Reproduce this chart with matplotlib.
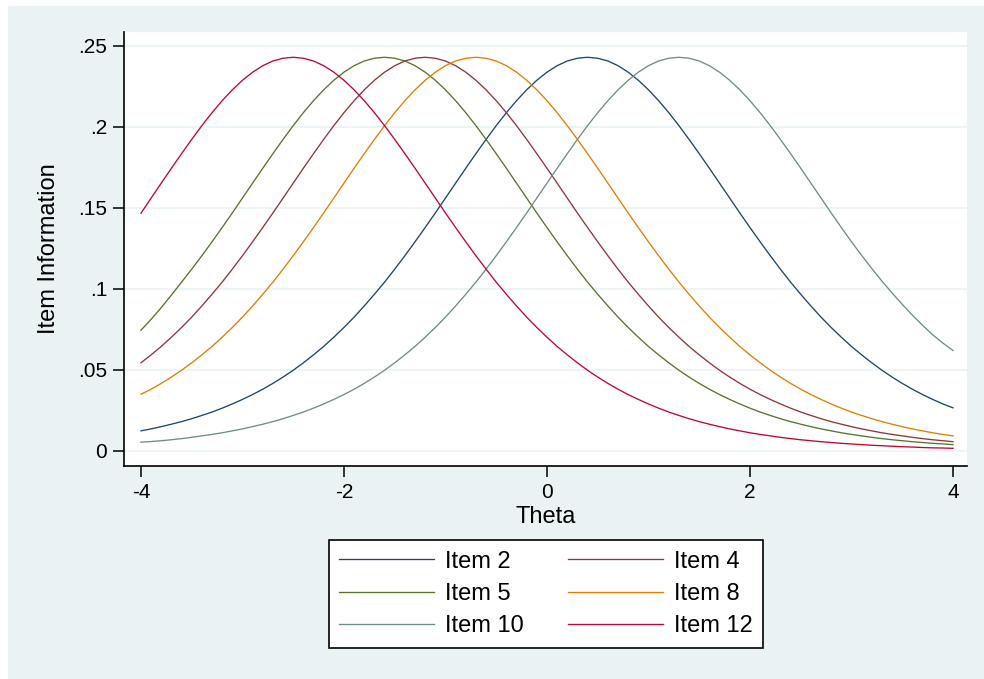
import matplotlib.pyplot as plt
from matplotlib.patches import Rectangle

plt.rcParams['font.family'] = ['Liberation Sans', 'DejaVu Sans']

# theta grid, step 0.1
theta = [-4.0, -3.9, -3.8, -3.7, -3.6, -3.5, -3.4, -3.3, -3.2, -3.1,
         -3.0, -2.9, -2.8, -2.7, -2.6, -2.5, -2.4, -2.3, -2.2, -2.1,
         -2.0, -1.9, -1.8, -1.7, -1.6, -1.5, -1.4, -1.3, -1.2, -1.1,
         -1.0, -0.9, -0.8, -0.7, -0.6, -0.5, -0.4, -0.3, -0.2, -0.1,
         0.0, 0.1, 0.2, 0.3, 0.4, 0.5, 0.6, 0.7, 0.8, 0.9,
         1.0, 1.1, 1.2, 1.3, 1.4, 1.5, 1.6, 1.7, 1.8, 1.9,
         2.0, 2.1, 2.2, 2.3, 2.4, 2.5, 2.6, 2.7, 2.8, 2.9,
         3.0, 3.1, 3.2, 3.3, 3.4, 3.5, 3.6, 3.7, 3.8, 3.9,
         4.0]

item2 = [.0124, .0136, .0150, .0165, .0181, .0199, .0219, .0240, .0264, .0290,
         .0318, .0348, .0381, .0417, .0456, .0498, .0544, .0593, .0645, .0702,
         .0762, .0826, .0895, .0967, .1042, .1122, .1205, .1291, .1379, .1469,
         .1561, .1653, .1745, .1835, .1923, .2008, .2088, .2162, .2229, .2288,
         .2338, .2378, .2407, .2424, .2430, .2424, .2407, .2378, .2338, .2288,
         .2229, .2162, .2088, .2008, .1923, .1835, .1745, .1653, .1561, .1469,
         .1379, .1291, .1205, .1122, .1042, .0967, .0895, .0826, .0762, .0702,
         .0645, .0593, .0544, .0498, .0456, .0417, .0381, .0348, .0318, .0290,
         .0266]
item4 = [.0544, .0593, .0645, .0702, .0762, .0826, .0895, .0967, .1042, .1122,
         .1205, .1291, .1379, .1469, .1561, .1653, .1745, .1835, .1923, .2008,
         .2088, .2162, .2229, .2288, .2338, .2378, .2407, .2424, .2430, .2424,
         .2407, .2378, .2338, .2288, .2229, .2162, .2088, .2008, .1923, .1835,
         .1745, .1653, .1561, .1469, .1379, .1291, .1205, .1122, .1042, .0967,
         .0895, .0826, .0762, .0702, .0645, .0593, .0544, .0498, .0456, .0417,
         .0381, .0348, .0318, .0290, .0264, .0240, .0219, .0199, .0181, .0165,
         .0150, .0136, .0124, .0112, .0102, .0093, .0084, .0076, .0069, .0063,
         .0057]
item5 = [.0745, .0812, .0885, .0962, .1042, .1122, .1205, .1291, .1379, .1469,
         .1561, .1653, .1745, .1835, .1923, .2008, .2088, .2162, .2229, .2288,
         .2338, .2378, .2407, .2424, .2430, .2424, .2407, .2378, .2338, .2288,
         .2229, .2162, .2088, .2008, .1923, .1835, .1745, .1653, .1561, .1469,
         .1379, .1291, .1205, .1122, .1042, .0967, .0895, .0826, .0762, .0702,
         .0645, .0593, .0544, .0498, .0456, .0417, .0381, .0348, .0318, .0290,
         .0264, .0240, .0219, .0199, .0181, .0165, .0150, .0136, .0124, .0112,
         .0102, .0093, .0084, .0076, .0069, .0063, .0057, .0052, .0047, .0043,
         .0039]
item8 = [.0350, .0381, .0417, .0456, .0498, .0544, .0593, .0645, .0702, .0762,
         .0826, .0895, .0967, .1042, .1122, .1205, .1291, .1379, .1469, .1561,
         .1653, .1745, .1835, .1923, .2008, .2088, .2162, .2229, .2288, .2338,
         .2378, .2407, .2424, .2430, .2424, .2407, .2378, .2338, .2288, .2229,
         .2162, .2088, .2008, .1923, .1835, .1745, .1653, .1561, .1469, .1379,
         .1291, .1205, .1122, .1042, .0967, .0895, .0826, .0762, .0702, .0645,
         .0593, .0544, .0498, .0456, .0417, .0381, .0348, .0318, .0290, .0264,
         .0240, .0219, .0199, .0181, .0165, .0150, .0136, .0124, .0112, .0102,
         .0093]
item10 = [.0054, .0058, .0063, .0069, .0076, .0084, .0093, .0102, .0112, .0124,
          .0136, .0150, .0165, .0181, .0199, .0219, .0240, .0264, .0290, .0318,
          .0348, .0381, .0417, .0456, .0498, .0544, .0593, .0645, .0702, .0762,
          .0826, .0895, .0967, .1042, .1122, .1205, .1291, .1379, .1469, .1561,
          .1653, .1745, .1835, .1923, .2008, .2088, .2162, .2229, .2288, .2338,
          .2378, .2407, .2424, .2430, .2424, .2407, .2378, .2338, .2288, .2229,
          .2162, .2088, .2008, .1923, .1835, .1745, .1653, .1561, .1469, .1379,
          .1291, .1207, .1126, .1048, .0975, .0905, .0838, .0776, .0717, .0666,
          .0620]
item12 = [.1467, .1561, .1653, .1745, .1835, .1923, .2008, .2088, .2162, .2229,
          .2288, .2338, .2378, .2407, .2424, .2430, .2424, .2407, .2378, .2338,
          .2288, .2229, .2162, .2088, .2008, .1923, .1835, .1745, .1653, .1561,
          .1469, .1379, .1291, .1205, .1122, .1042, .0967, .0895, .0826, .0762,
          .0702, .0645, .0593, .0544, .0498, .0456, .0417, .0381, .0348, .0318,
          .0290, .0264, .0240, .0219, .0199, .0181, .0165, .0150, .0136, .0124,
          .0112, .0102, .0093, .0084, .0076, .0069, .0063, .0057, .0052, .0047,
          .0043, .0039, .0035, .0032, .0029, .0026, .0024, .0021, .0019, .0018,
          .0016]

labels = ["Item 2", "Item 4", "Item 5", "Item 8", "Item 10", "Item 12"]
series = [item2, item4, item5, item8, item10, item12]
colors = ["#1a476f", "#90353b", "#55752f", "#e37e00", "#6e8e84", "#c10534"]

yticks = [0, 0.05, 0.1, 0.15, 0.2, 0.25]
yticklabels = ["0", ".05", ".1", ".15", ".2", ".25"]
xticks = [-4, -2, 0, 2, 4]

bg = "#eaf2f3"

fig = plt.figure(figsize=(9.84, 6.79), dpi=100)
fig.patch.set_facecolor("white")
fig.add_artist(Rectangle((8 / 984, 0), 1 - 8 / 984, 1 - 6 / 679,
                         transform=fig.transFigure, facecolor=bg,
                         edgecolor="none", zorder=-1))

ax = fig.add_axes([124 / 984, 1 - 466 / 679, (967 - 124) / 984, (466 - 32) / 679])
ax.set_facecolor("white")

lines = []
for y, lab, c in zip(series, labels, colors):
    ln, = ax.plot(theta, y, color=c, lw=0.95, label=lab)
    lines.append(ln)

ax.set_xlim(-4.167, 4.138)
ax.set_ylim(-0.0093, 0.2586)
ax.set_xticks(xticks)
ax.set_xticklabels([str(t) for t in xticks])
ax.set_yticks(yticks)
ax.set_yticklabels(yticklabels)
ax.yaxis.grid(True, color=bg, lw=1.2)
ax.set_axisbelow(True)

for s in ["top", "right"]:
    ax.spines[s].set_visible(False)
for s in ["left", "bottom"]:
    ax.spines[s].set_linewidth(1.2)
    ax.spines[s].set_color("black")

ax.tick_params(axis="both", direction="out", length=8, width=1.1,
               labelsize=15, pad=4, colors="black")
ax.set_xlabel("Theta", fontsize=17, labelpad=3)
ax.set_ylabel("Item Information", fontsize=17, labelpad=13)

# legend laid out row-wise like Stata: (2,4) (5,8) (10,12)
order = [0, 2, 4, 1, 3, 5]
leg = fig.legend([lines[i] for i in order], [labels[i] for i in order],
                 ncol=2, loc="upper center",
                 bbox_to_anchor=(546 / 984, 1 - 540 / 679), borderaxespad=0,
                 fontsize=17, handlelength=4.0, handletextpad=0.47,
                 columnspacing=1.9, labelspacing=0.43, borderpad=0.45,
                 fancybox=False, framealpha=1, edgecolor="black")
leg.get_frame().set_linewidth(1.2)

fig.savefig("out.png", dpi=100, facecolor=fig.get_facecolor())
